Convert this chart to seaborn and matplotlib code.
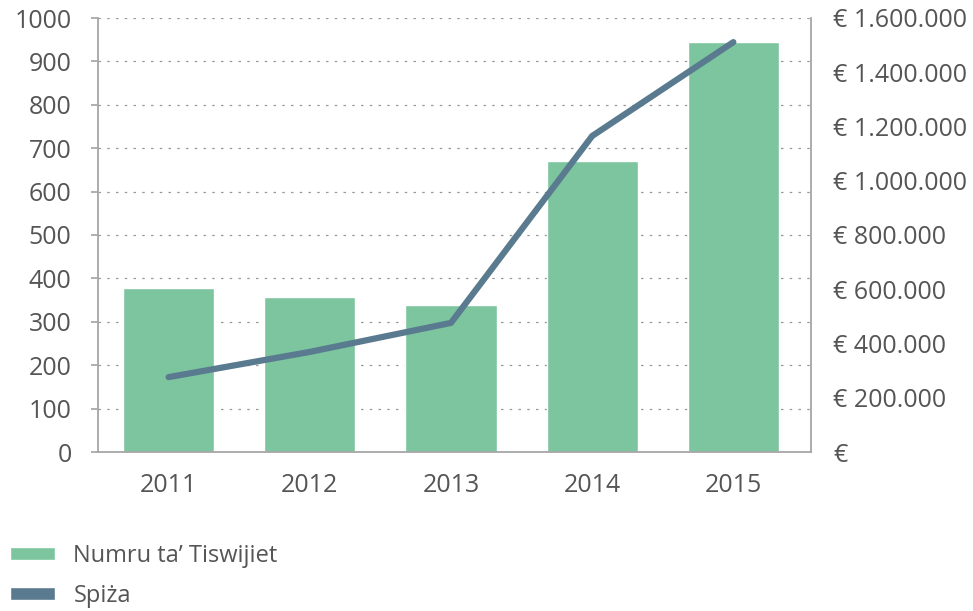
import numpy as np
import pandas as pd
import matplotlib
matplotlib.use("Agg")
import matplotlib.pyplot as plt
import seaborn as sns
from matplotlib.patches import Patch
from matplotlib.ticker import FuncFormatter

years = ["2011", "2012", "2013", "2014", "2015"]
tiswijiet = [378, 357, 339, 670, 945]
spiza = [276000, 369000, 476000, 1165000, 1511000]

left_ticks = list(range(0, 1001, 100))
right_ticks = list(range(0, 1600001, 200000))

BAR_COLOR = "#7cc59f"
LINE_COLOR = "#5a7b8f"
TEXT_COLOR = "#555555"
AXIS_COLOR = "#a6a6a6"

sns.set_theme(style="white")
plt.rcParams["font.family"] = ["Open Sans", "DejaVu Sans"]

df = pd.DataFrame({"year": years, "count": tiswijiet, "cost": spiza})

fig = plt.figure(figsize=(9.73, 6.11), dpi=100)
ax = fig.add_axes([98 / 973, 1 - 452 / 611, (811 - 98) / 973, (452 - 18) / 611])

sns.barplot(data=df, x="year", y="count", color=BAR_COLOR, width=0.645,
            saturation=1, ax=ax, zorder=2)
ax.set_ylim(0, 1000)
ax.set_xlim(-0.5, 4.55)
ax.set_yticks(left_ticks)
ax.set_xlabel("")
ax.set_ylabel("")
ax.yaxis.grid(True, linestyle=(0, (2, 5)), color="#999999", linewidth=0.9, zorder=0)
ax.set_axisbelow(True)

for side in ["top", "right"]:
    ax.spines[side].set_visible(False)
ax.spines["left"].set_color(AXIS_COLOR)
ax.spines["bottom"].set_color(AXIS_COLOR)
ax.spines["left"].set_linewidth(1.3)
ax.spines["bottom"].set_linewidth(1.3)
ax.tick_params(axis="y", left=True, length=5, color=AXIS_COLOR, labelsize=18,
               labelcolor=TEXT_COLOR, pad=14)
ax.tick_params(axis="x", bottom=False, labelsize=18, labelcolor=TEXT_COLOR, pad=9)

ax2 = ax.twinx()
sns.lineplot(x=np.arange(len(years)), y=spiza, color=LINE_COLOR, linewidth=4.5,
             solid_capstyle="round", ax=ax2, zorder=3)
ax2.set_ylim(0, 1600000)
ax2.set_yticks(right_ticks)
ax2.yaxis.set_major_formatter(FuncFormatter(
    lambda v, p: "€" if v == 0 else "€ " + f"{int(v):,}".replace(",", ".")))
for side in ["top", "left", "bottom"]:
    ax2.spines[side].set_visible(False)
ax2.spines["right"].set_color(AXIS_COLOR)
ax2.spines["right"].set_linewidth(1.3)
ax2.tick_params(axis="y", right=False, labelsize=18, labelcolor=TEXT_COLOR, pad=10)
ax2.set_xlim(-0.5, 4.55)

handles = [Patch(facecolor=BAR_COLOR, label="Numru ta’ Tiswijiet"),
           Patch(facecolor=LINE_COLOR, label="Spiża")]
fig.legend(handles=handles, loc="upper left", bbox_to_anchor=(0.01, 0.11),
           frameon=False, fontsize=17, labelcolor=TEXT_COLOR,
           handlelength=1.9, handleheight=0.45, handletextpad=0.8,
           labelspacing=0.68, borderaxespad=0, borderpad=0)

fig.savefig("out.png", dpi=100)
